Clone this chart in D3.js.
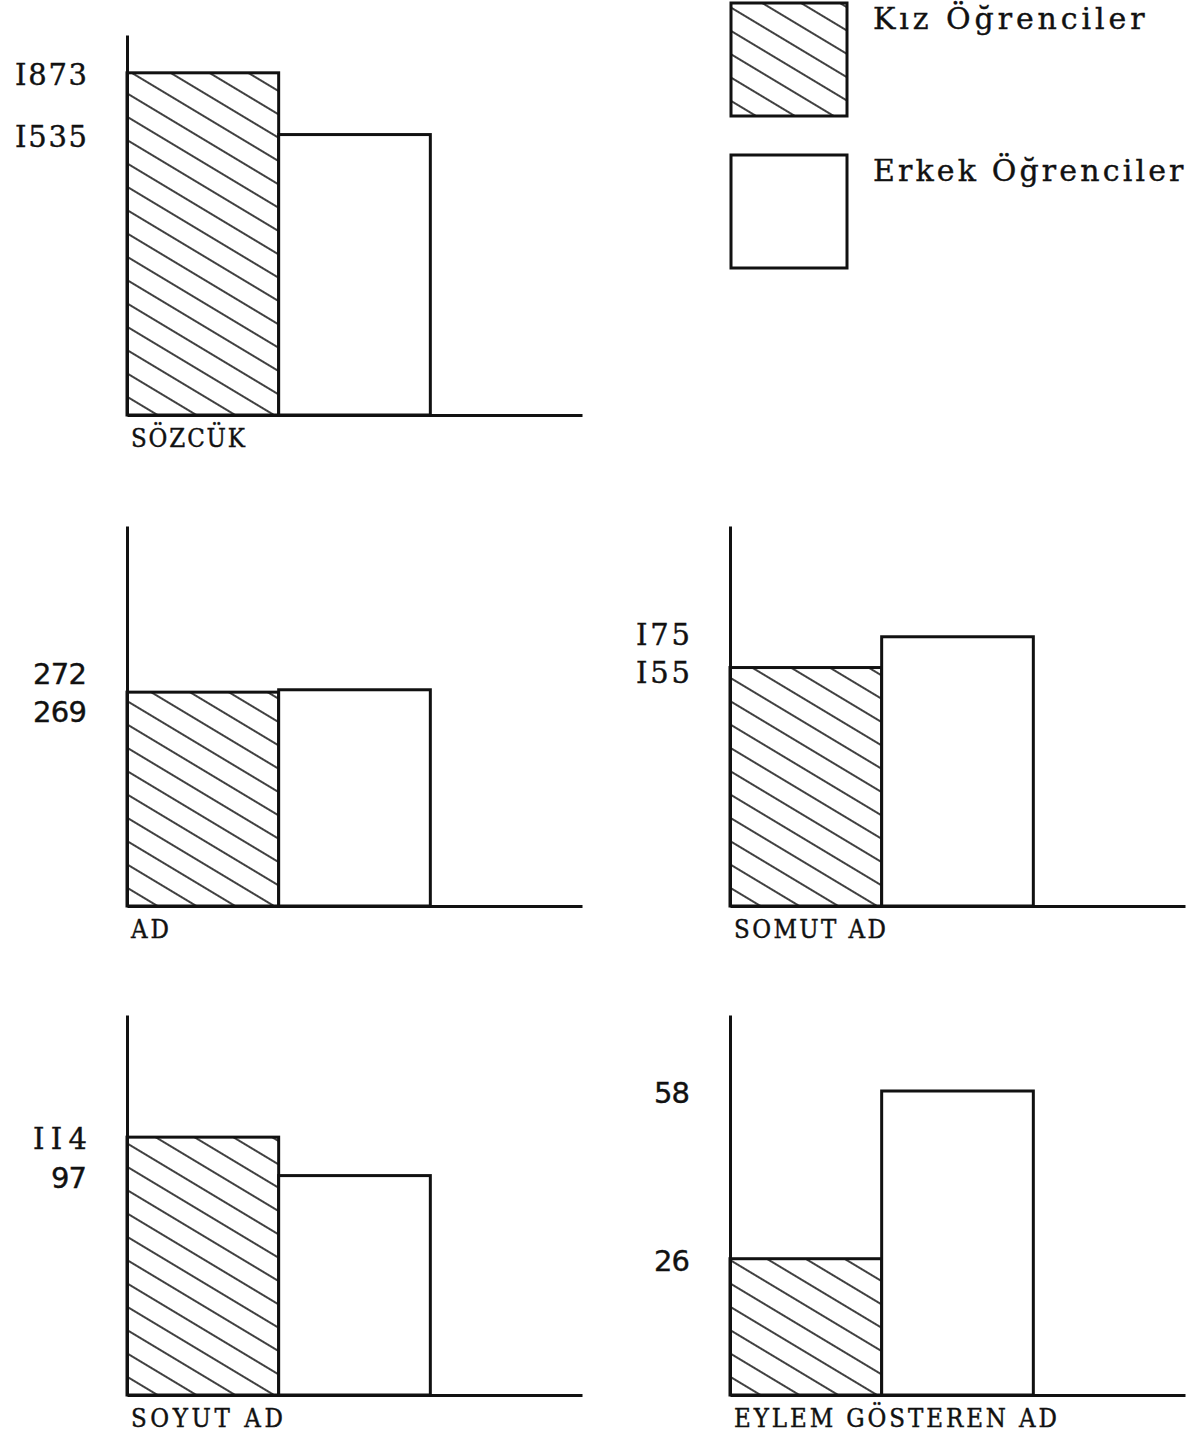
<!DOCTYPE html>
<html>
<head>
<meta charset="utf-8">
<script src="https://cdn.jsdelivr.net/npm/d3@7"></script>
<style>
  html, body { margin: 0; padding: 0; background: #fff; }
  svg { display: block; }
</style>
</head>
<body>
<div id="chart"></div>
<script>
// values typed on each small chart (girls / boys)
const categories = ['SÖZCÜK', 'AD', 'SOMUT AD', 'SOYUT AD', 'EYLEM GÖSTEREN AD'];
const kiz = [1873, 269, 155, 114, 26];
const erkek = [1535, 272, 175, 97, 58];
// labels as typed on the page (typewriter "I" for 1)
const kizLabels = ['I873', '269', 'I55', 'II4', '26'];
const erkekLabels = ['I535', '272', 'I75', '97', '58'];
// each panel has its own vertical scale
const axisTop = [2080, 478, 247, 168, 72.5];
const seriesNames = ['Kız Öğrenciler', 'Erkek Öğrenciler'];

const W = 1200, H = 1441;
const colX = [127, 730];
const rowBase = [415, 906, 1395];
const panelPos = [[0, 0], [0, 1], [1, 1], [0, 2], [1, 2]];
const axisH = 380, axisW = 455;
const SERIF = '"DejaVu Serif", "Liberation Serif", serif';
const SANS = '"DejaVu Sans", "Liberation Sans", sans-serif';

const svg = d3.select('#chart').append('svg')
  .attr('width', W)
  .attr('height', H);

svg.append('rect').attr('width', W).attr('height', H).attr('fill', '#fff');

const pat = svg.append('defs').append('pattern')
  .attr('id', 'hatch')
  .attr('patternUnits', 'userSpaceOnUse')
  .attr('width', 20)
  .attr('height', 20)
  .attr('patternTransform', 'rotate(31)');
pat.append('rect').attr('width', 20).attr('height', 20).attr('fill', '#fff');
pat.append('line')
  .attr('x1', -1).attr('x2', 21)
  .attr('y1', 10).attr('y2', 10)
  .attr('stroke', '#111')
  .attr('stroke-width', 1.6);

// typewriter text: fixed pitch forced through textLength
function typed(g, x, y, txt, size, pitch, family, anchor, stretch) {
  return g.append('text')
    .attr('transform', 'translate(' + x + ',' + y + ') scale(1,' + (stretch || 1) + ')')
    .attr('text-anchor', anchor || 'start')
    .attr('font-family', family)
    .attr('font-size', size)
    .attr('textLength', txt.length * pitch)
    .attr('lengthAdjust', 'spacing')
    .attr('fill', '#111')
    .attr('stroke', '#111')
    .attr('stroke-width', 0.4)
    .text(txt);
}

categories.forEach(function(cat, i) {
  const x0 = colX[panelPos[i][0]];
  const base = rowBase[panelPos[i][1]];
  const g = svg.append('g').attr('transform', 'translate(' + x0 + ',' + (base - axisH) + ')');

  const x = d3.scaleBand()
    .domain(['kiz', 'erkek', 'bos'])
    .range([0, axisW])
    .padding(0);
  const y = d3.scaleLinear()
    .domain([0, axisTop[i]])
    .range([axisH, 0]);

  const bars = [
    { key: 'kiz', v: kiz[i], fill: 'url(#hatch)' },
    { key: 'erkek', v: erkek[i], fill: '#fff' },
  ];

  g.selectAll('.bar')
    .data(bars)
    .enter().append('rect')
    .attr('class', 'bar')
    .attr('x', function(d) { return x(d.key); })
    .attr('y', function(d) { return y(d.v); })
    .attr('width', x.bandwidth())
    .attr('height', function(d) { return axisH - y(d.v); })
    .attr('fill', function(d) { return d.fill; })
    .attr('stroke', '#111')
    .attr('stroke-width', 3);

  // axes without ticks
  const yAxis = g.append('g').call(d3.axisLeft(y).tickValues([]).tickSizeOuter(0));
  const xAxis = g.append('g').attr('transform', 'translate(0,' + axisH + ')')
    .call(d3.axisBottom(x).tickValues([]).tickSizeOuter(0));
  [yAxis, xAxis].forEach(function(a) {
    a.select('.domain').attr('stroke', '#111').attr('stroke-width', 3);
  });

  // value labels at the bar heights, pushed apart when close
  let ya = y(kiz[i]), yb = y(erkek[i]);
  const gap = 38;
  if (Math.abs(ya - yb) < gap) {
    const m = (ya + yb) / 2;
    if (ya < yb) { ya = m - gap / 2; yb = m + gap / 2; } else { ya = m + gap / 2; yb = m - gap / 2; }
  }
  [[kizLabels[i], ya], [erkekLabels[i], yb]].forEach(function(l) {
    const fam = /I/.test(l[0]) ? SERIF : SANS;
    typed(g, -40, l[1] + 12, l[0], 29, 18, fam, 'end');
  });

  typed(g, 4, axisH + 32, cat, 23, 19, SERIF, 'start', 1.15);
});

// legend
const legend = svg.append('g');
const legendBoxes = [
  { y: 3, fill: 'url(#hatch)' },
  { y: 155, fill: '#fff' },
];
legend.selectAll('rect')
  .data(legendBoxes)
  .enter().append('rect')
  .attr('x', 731)
  .attr('y', function(d) { return d.y; })
  .attr('width', 116)
  .attr('height', 113)
  .attr('fill', function(d) { return d.fill; })
  .attr('stroke', '#111')
  .attr('stroke-width', 3);
seriesNames.forEach(function(name, i) {
  typed(legend, 873, legendBoxes[i].y + 26, name, 30, 19.4, SERIF);
});
</script>
</body>
</html>
